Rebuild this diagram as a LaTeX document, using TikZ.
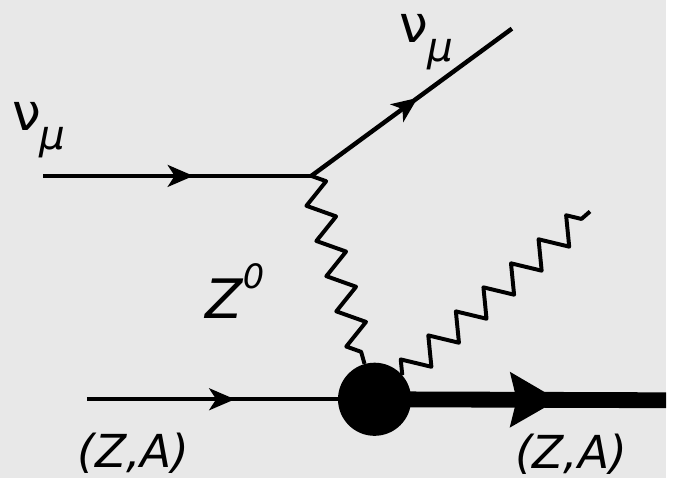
\documentclass[tikz,border=0pt]{standalone}
\usepackage{fontspec}
\setmainfont{DejaVu Sans}
\usetikzlibrary{arrows.meta, positioning, decorations.pathmorphing, decorations.markings}
\definecolor{paperbg}{HTML}{E8E8E8}
\tikzset{
  fermion/.style={line width=4.5pt, postaction={decorate},
    decoration={markings, mark=at position #1 with {\arrow{Stealth[length=26pt, width=22pt, inset=7pt]}}}},
  heavy/.style={line width=16pt, postaction={decorate},
    decoration={markings, mark=at position #1 with {\arrow{Stealth[length=48pt, width=54pt, inset=6pt]}}}},
  boson/.style={line width=4pt, line join=round, decorate,
    decoration={zigzag, segment length=37pt, amplitude=13pt}},
  lbl/.style={inner sep=0pt, anchor=base west},
}
\newcommand{\numu}{{\fontsize{52}{60}\selectfont ν}\kern-1pt\raisebox{-19pt}{\fontsize{41}{45}\selectfont\itshape μ}}
\newcommand{\nucl}{\fontsize{46}{52}\selectfont\itshape (Z,A)}

\begin{document}
\begin{tikzpicture}[x=1pt, y=-1pt]
  \fill[paperbg] (0,0) rectangle (674,484);
  % vertices and ends
  \coordinate (nuin) at (44,178);
  \coordinate (top) at (315,178);
  \coordinate (nuout) at (518,29);
  \node[circle, fill=black, minimum size=74pt, inner sep=0pt] (blob) at (379,404) {};
  \coordinate (zain) at (88,404);
  \coordinate (zaout) at (674,405);
  \coordinate (gamend) at (597,214);
  % lines
  \draw[fermion=0.56] (nuin) -- (top);
  \draw[fermion=0.53] (top) -- (nuout);
  \draw[boson] (top) -- (blob);
  \draw[boson] (blob) -- (gamend);
  \draw[fermion=0.59] (zain) -- (blob);
  \draw[heavy=0.63] (blob.center) -- (zaout);
  % labels
  \node[lbl] (nuinlbl) at (12,132) {\numu};
  \node[lbl] (nuoutlbl) at (404,43) {\numu};
  \node[lbl] (zlbl) at (208,322) {\fontsize{55}{60}\selectfont\itshape Z\raisebox{30pt}{\fontsize{34}{38}\selectfont 0}};
  \node[lbl] (zainlbl) at (78,473) {\nucl};
  \node[lbl] (zaoutlbl) at (521,474) {\nucl};
\end{tikzpicture}
\end{document}
